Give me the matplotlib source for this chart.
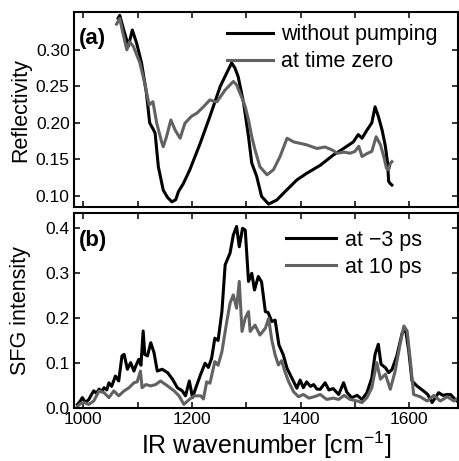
import matplotlib
matplotlib.use('Agg')
import matplotlib.pyplot as plt

plt.rcParams['font.family'] = ['Liberation Sans', 'DejaVu Sans']
plt.rcParams['mathtext.default'] = 'regular'

# (a) reflectivity
wn_nopump = [1064, 1067, 1075, 1083, 1090, 1098, 1107, 1116, 1122, 1128, 1132, 1138, 1147, 1155,
             1163, 1170, 1175, 1184, 1196, 1215, 1233, 1252, 1265, 1273, 1279, 1285, 1295, 1304,
             1310, 1319, 1328, 1341, 1356, 1374, 1393, 1411, 1436, 1460, 1479, 1497, 1506, 1513,
             1522, 1531, 1537, 1543, 1550, 1556, 1560, 1562, 1565, 1568]
refl_nopump = [0.343, 0.347, 0.325, 0.305, 0.327, 0.309, 0.282, 0.241, 0.200, 0.192, 0.186, 0.140,
               0.108, 0.098, 0.092, 0.095, 0.106, 0.117, 0.136, 0.172, 0.209, 0.250, 0.270, 0.282,
               0.275, 0.263, 0.227, 0.181, 0.145, 0.127, 0.0995, 0.089, 0.0945, 0.108, 0.122, 0.131,
               0.142, 0.156, 0.165, 0.174, 0.184, 0.179, 0.190, 0.200, 0.222, 0.209, 0.190, 0.168,
               0.145, 0.120, 0.117, 0.115]

wn_zero = [1061, 1067, 1072, 1080, 1085, 1092, 1104, 1113, 1121, 1128, 1135, 1144, 1147, 1153, 1161,
           1169, 1178, 1187, 1199, 1209, 1221, 1233, 1242, 1246, 1261, 1270, 1276, 1282, 1292, 1298,
           1304, 1310, 1316, 1325, 1338, 1350, 1362, 1375, 1387, 1399, 1411, 1430, 1445, 1458, 1467,
           1480, 1491, 1500, 1507, 1513, 1522, 1531, 1539, 1547, 1553, 1558, 1562, 1565, 1568]
refl_zero = [0.335, 0.343, 0.325, 0.300, 0.311, 0.3045, 0.282, 0.254, 0.2245, 0.229, 0.1996, 0.174,
             0.1675, 0.181, 0.204, 0.190, 0.179, 0.1996, 0.209, 0.2133, 0.222, 0.2315, 0.229, 0.229,
             0.245, 0.252, 0.2566, 0.252, 0.234, 0.222, 0.204, 0.181, 0.163, 0.140, 0.129, 0.136,
             0.154, 0.179, 0.174, 0.172, 0.170, 0.165, 0.167, 0.163, 0.1585, 0.160, 0.1585, 0.161,
             0.168, 0.154, 0.158, 0.161, 0.181, 0.170, 0.154, 0.138, 0.1357, 0.1447, 0.147]

# (b) SFG intensity
wn_m3 = [989, 994, 998, 1004, 1010, 1015, 1019, 1024, 1029, 1033, 1038, 1043, 1047, 1052, 1059, 1065,
         1071, 1075, 1081, 1087, 1093, 1097, 1102, 1106, 1110, 1113, 1118, 1124, 1130, 1136, 1145,
         1155, 1164, 1173, 1182, 1188, 1195, 1201, 1207, 1216, 1224, 1230, 1236, 1242, 1248, 1255,
         1261, 1270, 1276, 1282, 1287, 1293, 1298, 1304, 1310, 1315, 1322, 1328, 1335, 1340, 1347,
         1353, 1360, 1368, 1375, 1384, 1393, 1399, 1405, 1411, 1418, 1424, 1430, 1436, 1445, 1452,
         1460, 1470, 1479, 1485, 1494, 1504, 1513, 1522, 1531, 1537, 1543, 1548, 1556, 1562, 1568,
         1577, 1587, 1593, 1599, 1605, 1614, 1626, 1634, 1642, 1654, 1662, 1670, 1676, 1682, 1688]
sfg_m3 = [0.008, 0.015, 0.023, 0.012, 0.019, 0.030, 0.038, 0.033, 0.042, 0.036, 0.045, 0.040, 0.056,
          0.048, 0.071, 0.060, 0.1156, 0.119, 0.086, 0.1007, 0.082, 0.095, 0.108, 0.095, 0.171, 0.119,
          0.1156, 0.145, 0.123, 0.082, 0.086, 0.0785, 0.064, 0.045, 0.038, 0.027, 0.060, 0.023, 0.045,
          0.075, 0.0993, 0.090, 0.110, 0.155, 0.150, 0.214, 0.318, 0.344, 0.384, 0.403, 0.358, 0.399,
          0.395, 0.281, 0.299, 0.262, 0.292, 0.280, 0.214, 0.212, 0.192, 0.195, 0.140, 0.118, 0.088,
          0.066, 0.044, 0.062, 0.045, 0.058, 0.048, 0.052, 0.042, 0.0415, 0.056, 0.040, 0.043, 0.030,
          0.056, 0.035, 0.023, 0.028, 0.019, 0.034, 0.067, 0.119, 0.1415, 0.097, 0.0896, 0.0785, 0.085,
          0.1155, 0.167, 0.175, 0.127, 0.060, 0.049, 0.038, 0.030, 0.012, 0.034, 0.028, 0.030, 0.030,
          0.022, 0.0155]

wn_10 = [989, 995, 1001, 1010, 1019, 1029, 1038, 1047, 1056, 1065, 1075, 1084, 1093, 1099, 1105, 1108,
         1115, 1124, 1133, 1142, 1155, 1167, 1176, 1185, 1195, 1204, 1216, 1221, 1227, 1233, 1242,
         1248, 1255, 1264, 1270, 1276, 1282, 1287, 1292, 1298, 1304, 1307, 1316, 1325, 1335, 1341,
         1347, 1353, 1359, 1365, 1371, 1378, 1387, 1396, 1405, 1415, 1425, 1436, 1448, 1460, 1470,
         1480, 1491, 1504, 1513, 1522, 1531, 1540, 1547, 1556, 1565, 1574, 1583, 1590, 1596, 1602,
         1608, 1620, 1633, 1645, 1657, 1670, 1682, 1688]
sfg_10 = [0.004, 0.010, 0.012, 0.008, 0.0155, 0.038, 0.034, 0.023, 0.038, 0.027, 0.038, 0.045, 0.056,
          0.058, 0.082, 0.045, 0.052, 0.049, 0.052, 0.060, 0.049, 0.038, 0.027, 0.008, 0.019, 0.027,
          0.027, 0.020, 0.058, 0.055, 0.103, 0.095, 0.125, 0.192, 0.2327, 0.251, 0.2215, 0.281, 0.170,
          0.200, 0.214, 0.170, 0.184, 0.162, 0.177, 0.199, 0.150, 0.118, 0.0955, 0.105, 0.081, 0.058,
          0.036, 0.025, 0.030, 0.022, 0.025, 0.030, 0.019, 0.022, 0.019, 0.028, 0.019, 0.0155, 0.012,
          0.023, 0.045, 0.1007, 0.064, 0.075, 0.0415, 0.082, 0.1415, 0.182, 0.171, 0.1045, 0.030,
          0.025, 0.0155, 0.028, 0.0155, 0.025, 0.0155, 0.020]

xticks = [1000, 1100, 1200, 1300, 1400, 1500, 1600]
xticklabels = ['1000', '', '1200', '', '1400', '', '1600']
yticks_a = [0.10, 0.15, 0.20, 0.25, 0.30]
yticks_b = [0.0, 0.1, 0.2, 0.3, 0.4]

gray = '#626262'
fig = plt.figure(figsize=(4.59, 4.61), dpi=100)
ax1 = fig.add_axes([0.161, 0.551, 0.836, 0.422])
ax2 = fig.add_axes([0.161, 0.115, 0.836, 0.423])

ax1.plot(wn_nopump, refl_nopump, color='black', lw=2.2, label='without pumping')
ax1.plot(wn_zero, refl_zero, color=gray, lw=2.2, label='at time zero')
ax2.plot(wn_m3, sfg_m3, color='black', lw=2.2, label='at \u22123 ps')
ax2.plot(wn_10, sfg_10, color=gray, lw=2.2, label='at 10 ps')

for ax in (ax1, ax2):
    ax.set_xlim(982.5, 1689)
    ax.set_xticks(xticks)
    ax.tick_params(direction='in', top=True, right=True, length=4.5, width=1.1,
                   labelsize=12.5, pad=3)
    for s in ax.spines.values():
        s.set_linewidth(1.5)

ax1.set_ylim(0.085, 0.351)
ax1.set_yticks(yticks_a)
ax1.set_yticklabels(['%.2f' % v for v in yticks_a])
ax1.set_xticklabels([])
ax1.set_ylabel('Reflectivity', fontsize=15.5)
ax1.yaxis.set_label_coords(-0.112, 0.5)
ax1.text(0.014, 0.92, '(a)', transform=ax1.transAxes, fontsize=16, fontweight='bold', va='top')
ax1.legend(loc='upper left', bbox_to_anchor=(0.40, 0.94), frameon=False, fontsize=15.5,
           handlelength=2.1, handletextpad=0.4, labelspacing=0.28, borderpad=0, borderaxespad=0)

ax2.set_ylim(0, 0.433)
ax2.set_yticks(yticks_b)
ax2.set_yticklabels(['%.1f' % v for v in yticks_b])
ax2.set_xticklabels(xticklabels)
ax2.set_ylabel('SFG intensity', fontsize=15.5)
ax2.yaxis.set_label_coords(-0.112, 0.5)
ax2.set_xlabel('IR wavenumber [cm$^{-1}$]', fontsize=18, labelpad=2)
ax2.text(0.014, 0.915, '(b)', transform=ax2.transAxes, fontsize=16, fontweight='bold', va='top')
ax2.legend(loc='upper left', bbox_to_anchor=(0.553, 0.915), frameon=False, fontsize=15.5,
           handlelength=2.3, handletextpad=0.45, labelspacing=0.28, borderpad=0, borderaxespad=0)

fig.savefig('out.png', dpi=100)
